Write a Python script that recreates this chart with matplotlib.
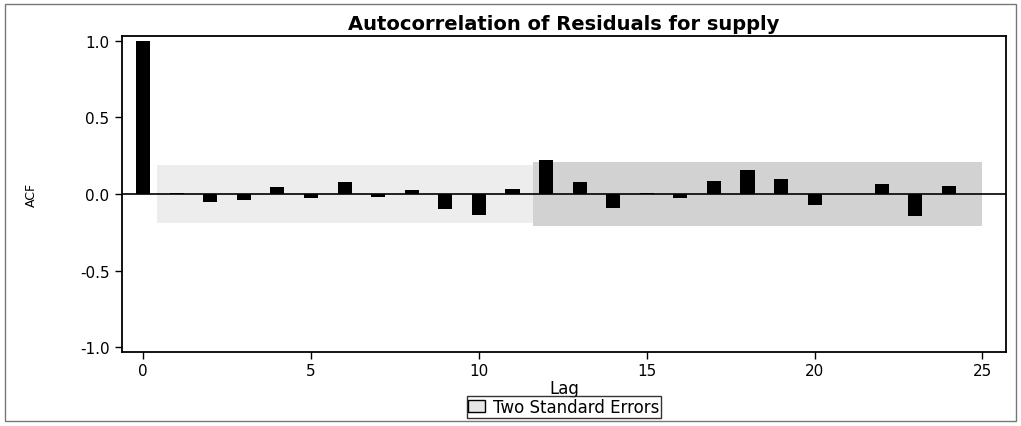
"""
Residual ACF plot for the supply model, with the two-standard-error band.
"""
import matplotlib.pyplot as plt
from matplotlib.patches import Patch, Rectangle

lags = list(range(25))
acf = [1.0, 0.005, -0.052, -0.04, 0.048, -0.026, 0.078, -0.02, 0.024, -0.098,
       -0.137, 0.035, 0.22, 0.078, -0.09, 0.005, -0.026, 0.085, 0.155, 0.10,
       -0.07, 0.0, 0.065, -0.145, 0.05]

# two standard error band, as (start lag, end lag, half-width)
band_start = [0.4, 11.6]
band_end = [11.6, 25.0]
band_width = [0.19, 0.21]
band_color = ["#ededed", "#d2d2d2"]

plt.rcParams["font.family"] = "DejaVu Sans"

fig = plt.figure(figsize=(10.21, 4.27), dpi=100)
ax = fig.add_axes([122 / 1021, 1 - 353 / 427, (1006 - 122) / 1021, (353 - 37) / 427])

for x0, x1, w, c in zip(band_start, band_end, band_width, band_color):
    ax.fill_between([x0, x1], [-w, -w], [w, w], color=c, lw=0, zorder=1)

ax.axhline(0, color="black", lw=1.2, zorder=2)
ax.bar(lags, acf, width=0.42, color="black", zorder=3)

ax.set_xlim(-0.63, 25.7)
ax.set_ylim(-1.03, 1.03)
ax.set_xticks([0, 5, 10, 15, 20, 25])
ax.set_yticks([-1.0, -0.5, 0.0, 0.5, 1.0])
ax.set_yticklabels(["-1.0", "-0.5", "0.0", "0.5", "1.0"])
ax.tick_params(direction="out", length=5, width=1, labelsize=11, colors="black")
ax.tick_params(axis="x", pad=3)
ax.tick_params(axis="y", pad=4)
for s in ax.spines.values():
    s.set_linewidth(1.3)

ax.set_title("Autocorrelation of Residuals for supply", fontsize=14,
             fontweight="bold", pad=5)
ax.set_xlabel("Lag", fontsize=12, labelpad=1)
ax.set_ylabel("ACF", fontsize=9, labelpad=30)

handle = Patch(facecolor="#e6e6e6", edgecolor="black", lw=1)
fig.legend([handle], ["Two Standard Errors"], loc="center",
           bbox_to_anchor=(564 / 1021, 1 - 408 / 427), frameon=True,
           fancybox=False, edgecolor="black", fontsize=12,
           handlelength=1.0, handleheight=0.7, handletextpad=0.5,
           borderpad=0.1, borderaxespad=0)

# outer frame around the whole graph
fig.patches.append(Rectangle((5 / 1021, 5 / 427), 1011 / 1021, 417 / 427,
                             transform=fig.transFigure, fill=False,
                             edgecolor="#777777", lw=1))

fig.savefig("out.png", dpi=100)
